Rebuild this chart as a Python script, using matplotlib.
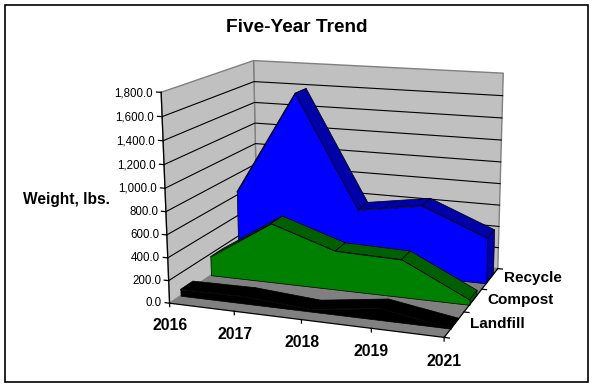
import numpy as np
import matplotlib
matplotlib.use('Agg')
import matplotlib.pyplot as plt
from matplotlib.patches import Rectangle
from mpl_toolkits.mplot3d import proj3d
from mpl_toolkits.mplot3d.art3d import Poly3DCollection

plt.rcParams['font.family'] = ['Liberation Sans', 'DejaVu Sans']

years = ['2016', '2017', '2018', '2019', '2021']
series = ['Landfill', 'Compost', 'Recycle']
landfill = [57, 63, 20, 100, 5]
compost = [175, 540, 350, 335, 45]
recycle = [630, 1595, 565, 655, 415]
z_ticks = [0, 200, 400, 600, 800, 1000, 1200, 1400, 1600, 1800]

W, H = 592, 385
XMAX, YMAX, ZMAX = len(years) - 1, len(series), z_ticks[-1]

fig = plt.figure(figsize=(W / 100, H / 100), dpi=100)
# camera was fitted to the corners of the box in the original
ax = fig.add_axes([136.28 / W, -4.39 / H, 396.36 / W, 396.36 / H], projection='3d', computed_zorder=False)
ax.set_xlim(0, XMAX)
ax.set_ylim(0, YMAX)
ax.set_zlim(0, ZMAX)
ax.view_init(14.146, -69.882, 0.259)
ax.set_proj_type('persp', focal_length=0.5809)
ax.set_box_aspect((1, 0.7683, 0.7520))
ax.set_axis_off()


def label(x, y, z, text, **kw):
    # flat text placed at the projected point of the box
    u, v, _ = proj3d.proj_transform(x, y, z, ax.get_proj())
    ax.text2D(u, v, text, va='center', zorder=9, **kw)


# walls and floor
ax.add_collection3d(Poly3DCollection([[(0, 0, 0), (0, YMAX, 0), (0, YMAX, ZMAX), (0, 0, ZMAX)],
                                      [(0, YMAX, 0), (XMAX, YMAX, 0), (XMAX, YMAX, ZMAX), (0, YMAX, ZMAX)]],
                                     facecolor='#C0C0C0', edgecolor='#808080', linewidth=1, zorder=1))
ax.add_collection3d(Poly3DCollection([[(0, 0, 0), (XMAX, 0, 0), (XMAX, YMAX, 0), (0, YMAX, 0)]],
                                     facecolor='#808080', edgecolor='none', zorder=1))
for z in z_ticks[1:-1]:
    ax.plot([0, 0, XMAX], [0, YMAX, YMAX], [z, z, z], color='k', lw=0.8, zorder=2)

# axis lines and ticks
ax.plot([0, 0], [0, 0], [0, ZMAX], color='k', lw=0.9, zorder=2)
ax.plot([0, XMAX, XMAX], [0, 0, YMAX], [0, 0, 0], color='k', lw=0.9, zorder=8)
for z in z_ticks:
    ax.plot([-0.07, 0], [0, 0], [z, z], color='k', lw=0.9, zorder=2)
for x in range(XMAX + 1):
    ax.plot([x, x], [0, 0], [-30, 0], color='k', lw=0.9, zorder=8)
for y in range(YMAX + 1):
    ax.plot([XMAX, XMAX + 0.07], [y, y], [0, 0], color='k', lw=0.9, zorder=8)

# back to front so the near bands cover the far ones
bands = [(recycle, 2, 0.27, '#0000FF', '#0000A8'),
         (compost, 1, 0.30, '#008000', '#006000'),
         (landfill, 0, 0.33, '#000000', '#000000')]
for vals, d, gap, front, dark in bands:
    y0, y1 = d + gap, d + 0.72
    zo = 6 - d
    strips = []
    for j in range(XMAX):
        strips.append([(j, y0, vals[j]), (j + 1, y0, vals[j + 1]), (j + 1, y1, vals[j + 1]), (j, y1, vals[j])])
    strips.append([(XMAX, y0, 0), (XMAX, y1, 0), (XMAX, y1, vals[-1]), (XMAX, y0, vals[-1])])
    ax.add_collection3d(Poly3DCollection(strips, facecolor=dark, edgecolor='k', linewidth=0.5, zorder=zo))
    face = [(0, y0, 0)] + [(j, y0, v) for j, v in enumerate(vals)] + [(XMAX, y0, 0)]
    ax.add_collection3d(Poly3DCollection([face], facecolor=front, edgecolor='k', linewidth=0.5, zorder=zo))

# labels
for z in z_ticks:
    label(-0.12, 0, z - 10, f'{z:,.1f}', fontsize=8.3, ha='right')
for x, year in enumerate(years):
    label(x, 0, -200, year, fontsize=11.3, fontweight='bold', ha='center')
for y, name in enumerate(series):
    label(XMAX + 0.21, y + 0.5, 15, name, fontsize=11, fontweight='bold', ha='left')

fig.text(297 / W, 1 - 27.5 / H, 'Five-Year Trend', fontsize=13.7, fontweight='bold', ha='center', va='center')
fig.text(66 / W, 1 - 200 / H, 'Weight, lbs.', fontsize=11.2, fontweight='bold', ha='center', va='center')
fig.add_artist(Rectangle((4.5 / W, 3.5 / H), 583 / W, 377 / H, transform=fig.transFigure,
                         facecolor='none', edgecolor='k', linewidth=1.2))

fig.savefig('out.png', dpi=100)
